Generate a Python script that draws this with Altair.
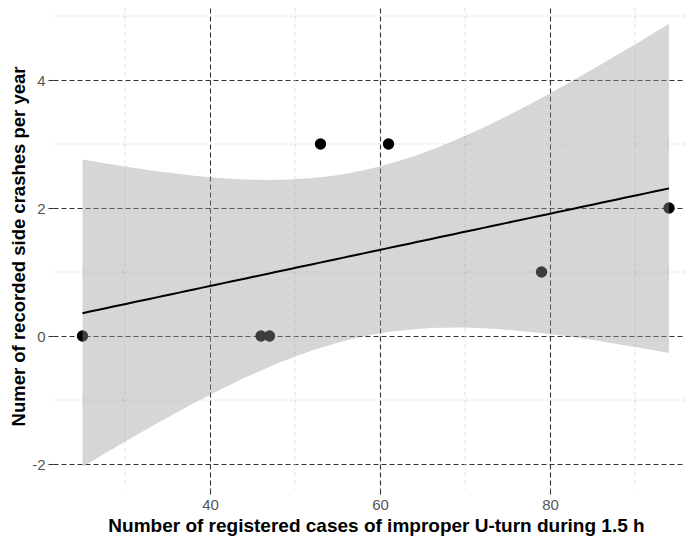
import altair as alt
import numpy as np
import pandas as pd

# Observed data
uturns = [25, 46, 47, 53, 61, 79, 94]
crashes = [0, 0, 0, 3, 3, 1, 2]

x_major = [40, 60, 80]
y_major = [-2, 0, 2, 4]
x_minor = [30, 50, 70, 90]
y_minor = [-1, 1, 3, 5]

x_title = "Number of registered cases of improper U-turn during 1.5 h"
y_title = "Numer of recorded side crashes per year"

pts = pd.DataFrame({"x": uturns, "y": crashes})

# linear model with 95% confidence band (as geom_smooth(method="lm"))
xa = np.array(uturns, dtype=float)
ya = np.array(crashes, dtype=float)
n = len(xa)
xm, ym = xa.mean(), ya.mean()
sxx = ((xa - xm) ** 2).sum()
slope = ((xa - xm) * (ya - ym)).sum() / sxx
icpt = ym - slope * xm
resid = ya - (icpt + slope * xa)
s = np.sqrt((resid ** 2).sum() / (n - 2))
tval = 2.570582  # t(0.975, df=5)
xs = np.linspace(xa.min(), xa.max(), 80)
fit = icpt + slope * xs
se = s * np.sqrt(1.0 / n + (xs - xm) ** 2 / sxx)
band = pd.DataFrame({"x": xs, "fit": fit, "lo": fit - tval * se, "hi": fit + tval * se})

xscale = alt.Scale(domain=[21.53, 95.88], nice=False, zero=False)
yscale = alt.Scale(domain=[-2.39, 5.125], nice=False, zero=False)

dash = [5, 3]
hyphen_expr = "replace(datum.label, '\u2212', '-')"

xaxis = alt.Axis(
    values=x_major, title=x_title, grid=True, gridDash=dash, gridColor="#333333",
    gridWidth=1.1, domain=False, ticks=True, tickDash=dash, tickColor="#333333",
    tickSize=6, tickWidth=1.1, labelColor="#555555", labelFontSize=15,
    labelFont="Liberation Sans", labelPadding=2,
    titleFont="Liberation Sans", titleFontSize=19, titleFontWeight="bold",
    titleColor="#000000", titleX=323, titleY=36, titleAlign="center",
    titleBaseline="middle", titleAnchor="middle",
)
yaxis = alt.Axis(
    values=y_major, title=y_title, grid=True, gridDash=dash, gridColor="#333333",
    gridWidth=1.1, domain=False, ticks=True, tickDash=dash, tickColor="#333333",
    tickSize=6, tickWidth=1.1, labelColor="#555555", labelFontSize=15,
    labelFont="Liberation Sans", labelPadding=2, labelExpr=hyphen_expr,
    titleFont="Liberation Sans", titleFontSize=18.5, titleFontWeight="bold",
    titleColor="#000000", titleX=-35, titleY=238, titleAngle=270,
    titleAlign="center", titleBaseline="middle",
)

minor_x = alt.Chart(pd.DataFrame({"v": x_minor})).mark_rule(
    color="#d4d4d4", strokeWidth=0.8, strokeDash=[3, 2, 1, 2]
).encode(x=alt.X("v:Q", scale=xscale, axis=xaxis))

minor_y = alt.Chart(pd.DataFrame({"v": y_minor})).mark_rule(
    color="#d4d4d4", strokeWidth=0.8, strokeDash=[3, 2, 1, 2]
).encode(y=alt.Y("v:Q", scale=yscale, axis=yaxis))

points = alt.Chart(pts).mark_circle(size=130, opacity=1, color="#000000").encode(
    x=alt.X("x:Q", scale=xscale, axis=xaxis),
    y=alt.Y("y:Q", scale=yscale, axis=yaxis),
)

ribbon = alt.Chart(band).mark_area(color="#999999", opacity=0.4).encode(
    x=alt.X("x:Q", scale=xscale, axis=xaxis),
    y=alt.Y("lo:Q", scale=yscale, axis=yaxis),
    y2="hi:Q",
)

line = alt.Chart(band).mark_line(color="#000000", strokeWidth=2).encode(
    x=alt.X("x:Q", scale=xscale, axis=xaxis),
    y=alt.Y("fit:Q", scale=yscale, axis=yaxis),
)

chart = alt.layer(minor_x, minor_y, points, ribbon, line).properties(
    width=632, height=481,
    autosize=alt.AutoSizeParams(type="none"),
    padding={"left": 45, "top": 0, "right": 0, "bottom": 48},
).configure(background="white").configure_view(stroke=None)

chart.save("out.html", embed_options={"renderer": "svg", "actions": False})
